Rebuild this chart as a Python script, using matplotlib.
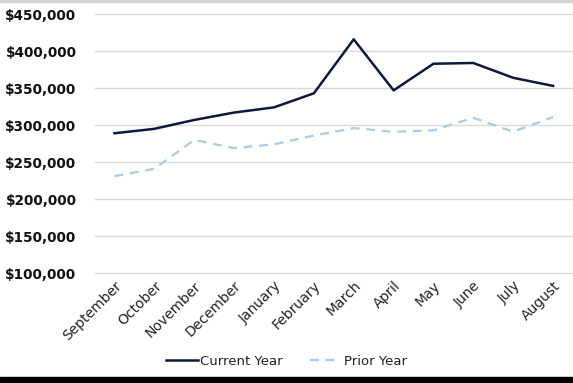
import matplotlib.pyplot as plt
from matplotlib.patches import Rectangle
from matplotlib.ticker import FuncFormatter

months = ['September', 'October', 'November', 'December', 'January', 'February',
          'March', 'April', 'May', 'June', 'July', 'August']
current_year = [289000, 295000, 307000, 317000, 324000, 343000,
                416000, 347000, 383000, 384000, 364000, 353000]
prior_year = [231000, 241000, 280000, 269000, 274000, 286000,
              296000, 291000, 293000, 310000, 291000, 311000]

fig = plt.figure(figsize=(5.73, 3.83), dpi=100)
ax = fig.add_axes([0.165, 0.287, 0.835, 0.676])

x = range(len(months))
ax.plot(x, current_year, color='#0b1a3c', lw=1.8, label='Current Year')
ax.plot(x, prior_year, color='#a9cbea', lw=1.6, ls=(0, (4, 3)), label='Prior Year')

ax.set_xlim(-0.5, len(months) - 0.5)
ax.set_ylim(100000, 450000)
ax.set_yticks(range(100000, 450001, 50000))
ax.yaxis.set_major_formatter(FuncFormatter(lambda v, p: f'${v:,.0f}'))
ax.grid(axis='y', color='#d9d9d9', lw=1)
for gl in ax.get_ygridlines():
    gl.set_clip_on(False)
ax.set_axisbelow(True)
for s in ax.spines.values():
    s.set_visible(False)
ax.tick_params(length=0)
ax.tick_params(axis='y', pad=13)
ax.tick_params(axis='x', pad=4)

ax.set_xticks(list(x))
ax.set_xticklabels(months, rotation=45, ha='right', rotation_mode='anchor',
                   fontsize=10, family='DejaVu Sans', color='#222222')
for lbl in ax.get_yticklabels():
    lbl.set_fontsize(9.8)
    lbl.set_fontweight('bold')
    lbl.set_family('DejaVu Sans')
    lbl.set_color('#111111')

fig.legend(loc='center', bbox_to_anchor=(0.5, 0.057), ncol=2, frameon=False,
           prop={'family': 'DejaVu Sans', 'size': 9.5}, handlelength=2.4,
           columnspacing=2.0, handletextpad=0.2, labelcolor='#222222')

# frame decorations
fig.patches.append(Rectangle((0, 0), 1, 6 / 383, transform=fig.transFigure,
                             color='black', zorder=10))
fig.patches.append(Rectangle((0, 1 - 1.5 / 383), 1, 1.5 / 383, transform=fig.transFigure,
                             color='#d4d4d4', zorder=10))

fig.savefig('out.png', dpi=100)
